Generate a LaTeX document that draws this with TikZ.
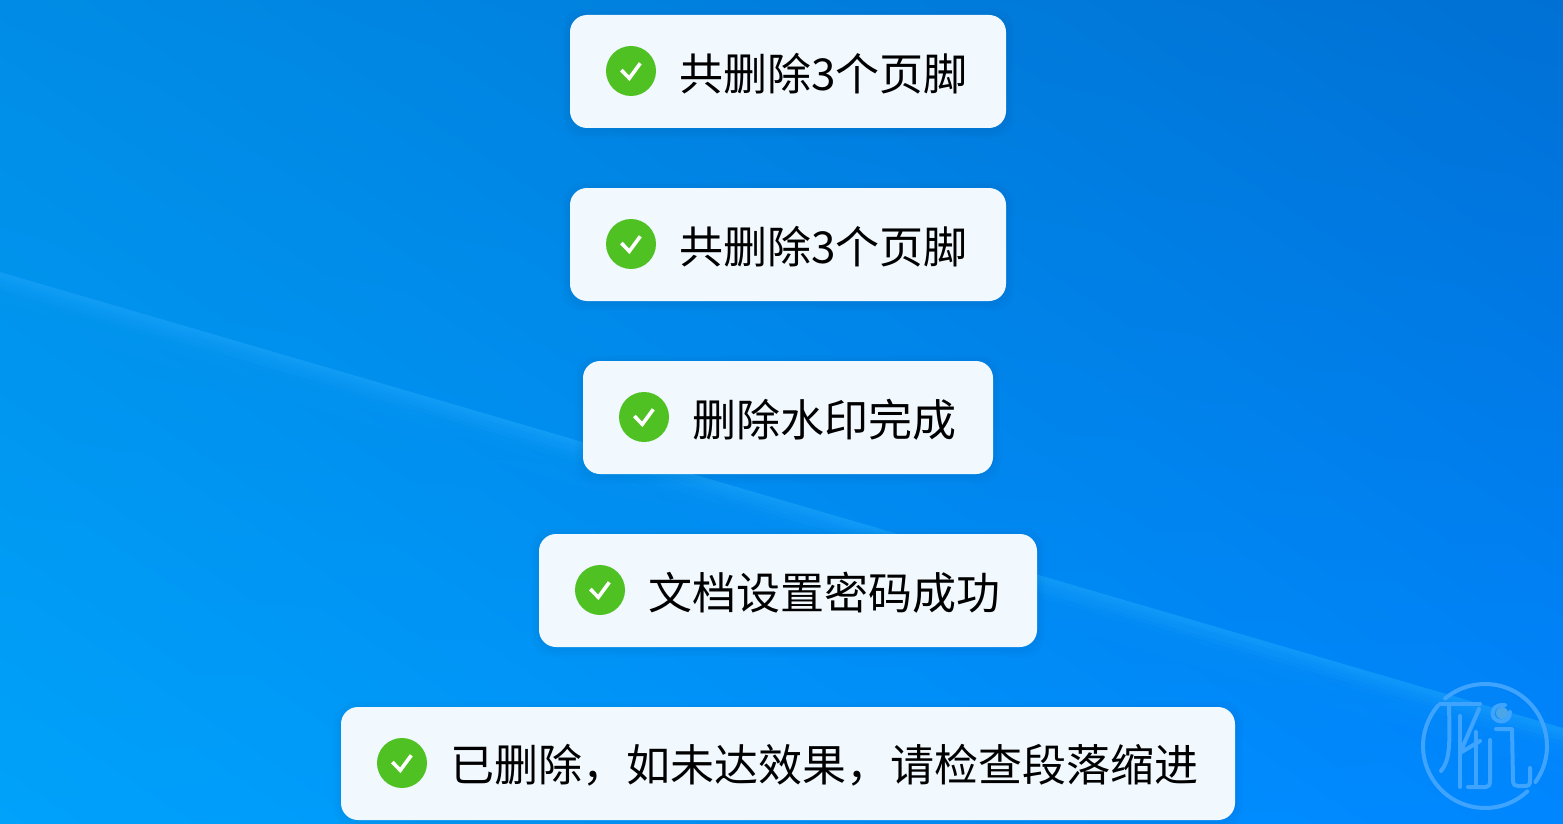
\documentclass[tikz,border=0pt]{standalone}
\usepackage{fontspec}
\newfontfamily\cjk{Noto Sans CJK SC}
\usetikzlibrary{calc,shadings}
\definecolor{panel}{HTML}{F1F8FE}
\definecolor{okgreen}{HTML}{50C122}
\definecolor{wm}{HTML}{3FA4FF}
\definecolor{wmdot}{HTML}{4AA6E6}
\definecolor{tl}{HTML}{008CE6}
\definecolor{tr}{HTML}{0070D4}
\definecolor{bl}{HTML}{00A2FA}
\definecolor{br}{HTML}{0086FF}
\definecolor{glow}{HTML}{20A8FF}
\tikzset{
  toast/.style={fill=panel,rounded corners=17pt,line width=0pt},
  toastshade/.style={fill=black,fill opacity=0.011,rounded corners=20pt,line width=0pt},
  msg/.style={anchor=west,inner sep=0pt,font=\cjk\fontsize{44}{44}\selectfont,text=black},
  okdot/.style={circle,fill=okgreen,minimum size=50pt,inner sep=0pt},
  tick/.style={draw=white,line width=3.6pt,line cap=butt,line join=miter},
  wmline/.style={draw=wm,line width=4pt,line cap=round,line join=round}
}
\newcommand{\toastrow}[6]{%
  \foreach \k in {8,6,4,2}{\fill[toastshade] (#2-\k,#3-\k+2) rectangle (#4+\k,#5+\k+2);}
  \path[toast] (#2,#3) rectangle (#4,#5);
  \node[okdot] (#1dot) at (#2+61,#3+56) {};
  \draw[tick] ($(#1dot)+(-9.7,-1)$) -- ($(#1dot)+(-1.7,7.3)$) -- ($(#1dot)+(9.3,-7.7)$);
  \node[msg] (#1txt) at (#2+109,#3+58.5) {#6};
}
\begin{document}
\begin{tikzpicture}[x=1pt,y=-1pt]
\useasboundingbox (0,0) rectangle (1563,824);
\shade[upper left=tl,upper right=tr,lower left=bl,lower right=br] (0,0) rectangle (1563,824);
% streak: sharp upper edge, soft lower edge
\foreach \h/\o in {3/0.16,6/0.16,9/0.15,13/0.13,17/0.11,22/0.08,30/0.05,45/0.03,70/0.02}{
  \fill[glow,fill opacity=\o] (0,272) -- (1563,728) -- (1563,728+\h) -- (0,272+\h) -- cycle;
}
% watermark
\coordinate (wmc) at (1485,746);
\draw[wmline] ($(wmc)+(-130:62)$) arc[start angle=-130,end angle=35.5,radius=62];
\draw[wmline] ($(wmc)+(47:62)$) arc[start angle=47,end angle=220.5,radius=62];
\draw[wmline] (1440,703.5) -- (1480,703.5);
\draw[wmline] (1449,706) .. controls (1450,745) and (1450,760) .. (1441,771);
\draw[wmline] (1460,716) -- (1460,787);
\draw[wmline] (1479,709) -- (1460,753) -- (1480,741);
\draw[wmline] (1490,740) -- (1490,780) .. controls (1490,785) and (1489,787) .. (1486,787) -- (1468,787);
\draw[wmline] (1476,732) -- (1476,787);
\draw[wmline] (1496,729) -- (1512,729) -- (1513,780) .. controls (1513,785) and (1515,786) .. (1518,786) -- (1524,786) .. controls (1529,786) and (1530,785) .. (1530,780) -- (1530,768);
\fill[wmdot] (1502,713) circle (6pt);
\draw[wmline] (1505,705) .. controls (1494,704) and (1490,712) .. (1494,718) .. controls (1499,724) and (1510,722) .. (1510,712);
% toasts
\toastrow{a}{570}{15}{1006}{128}{共删除3个页脚}
\toastrow{b}{570}{188}{1006}{301}{共删除3个页脚}
\toastrow{c}{583}{361}{993}{474}{删除水印完成}
\toastrow{d}{539}{534}{1037}{647}{文档设置密码成功}
\toastrow{e}{341}{707}{1235}{820}{已删除，如未达效果，请检查段落缩进}
\end{tikzpicture}
\end{document}
